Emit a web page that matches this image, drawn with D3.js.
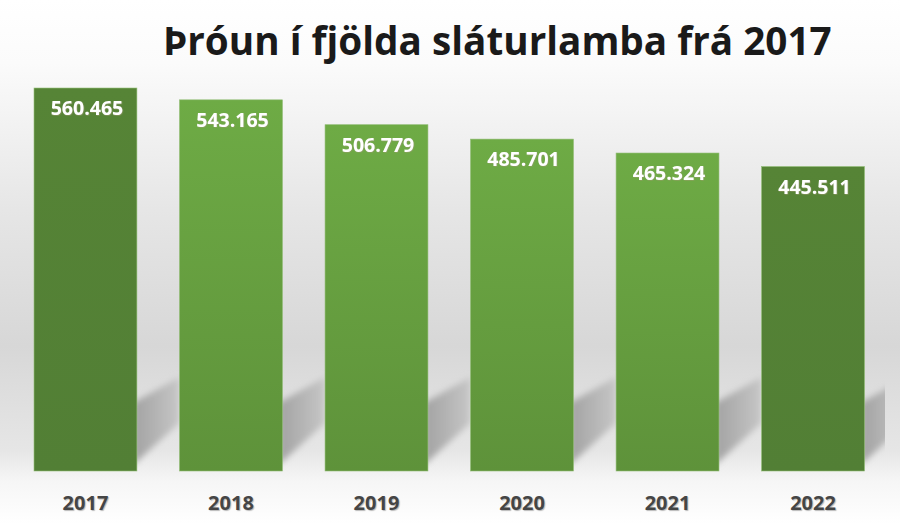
<!DOCTYPE html>
<html>
<head>
<meta charset="utf-8">
<script src="https://cdn.jsdelivr.net/npm/d3@7"></script>
<style>
  body { margin: 0; background: #fff; }
  svg { display: block; }
</style>
</head>
<body>
<div id="chart"></div>
<script>
// data
const years = ["2017", "2018", "2019", "2020", "2021", "2022"];
const lambs = [560465, 543165, 506779, 485701, 465324, 445511];
const darkYears = ["2017", "2022"];
const title = "Þróun í fjölda sláturlamba frá 2017";

const width = 900, height = 524;
const base = 471;

const svg = d3.select("#chart")
  .append("svg")
  .attr("width", width)
  .attr("height", height);

const defs = svg.append("defs");

// background gradient (white -> grey -> white)
const bg = defs.append("linearGradient")
  .attr("id", "bg").attr("x1", 0).attr("y1", 0).attr("x2", 0).attr("y2", 1);
[[0, "#ffffff"], [0.12, "#fbfbfb"], [0.4, "#e6e6e6"], [0.66, "#d7d7d7"],
 [0.86, "#e6e6e6"], [0.92, "#f6f6f6"], [1, "#ffffff"]]
  .forEach(s => bg.append("stop").attr("offset", s[0]).attr("stop-color", s[1]));

const light = defs.append("linearGradient")
  .attr("id", "light").attr("x1", 0).attr("y1", 0).attr("x2", 0).attr("y2", 1);
light.append("stop").attr("offset", 0).attr("stop-color", "#6eab45");
light.append("stop").attr("offset", 1).attr("stop-color", "#5e923a");

const dark = defs.append("linearGradient")
  .attr("id", "dark").attr("x1", 0).attr("y1", 0).attr("x2", 0).attr("y2", 1);
dark.append("stop").attr("offset", 0).attr("stop-color", "#568436");
dark.append("stop").attr("offset", 1).attr("stop-color", "#527f35");

const shade = defs.append("linearGradient")
  .attr("id", "shade").attr("x1", 0).attr("y1", 0).attr("x2", 1).attr("y2", 0);
shade.append("stop").attr("offset", 0).attr("stop-color", "#a2a2a2");
shade.append("stop").attr("offset", 1).attr("stop-color", "#c6c6c6");

defs.append("filter").attr("id", "blur")
  .attr("x", "-20%").attr("y", "-20%").attr("width", "140%").attr("height", "140%")
  .append("feGaussianBlur").attr("stdDeviation", 3);

defs.append("clipPath").attr("id", "clip")
  .append("rect").attr("x", 0).attr("y", 0).attr("width", 885).attr("height", height);

const txtShadow = defs.append("filter").attr("id", "glow")
  .attr("x", "-10%").attr("y", "-20%").attr("width", "120%").attr("height", "140%");
txtShadow.append("feDropShadow").attr("dx", 0.6).attr("dy", 0.6)
  .attr("stdDeviation", 0.4).attr("flood-color", "#9a9a6a").attr("flood-opacity", 0.8);

svg.append("rect")
  .attr("width", width).attr("height", height)
  .attr("fill", "url(#bg)");

// scales
const x = d3.scaleBand()
  .domain(years)
  .range([12.7, 885.8])
  .paddingInner(0.293)
  .paddingOuter(0.1465);

const y = d3.scaleLinear()
  .domain([0, 600000])
  .range([base, 61]);

// shadows behind the bars
const gap = x.step() - x.bandwidth();
svg.append("g")
  .attr("clip-path", "url(#clip)")
  .selectAll("polygon")
  .data(years)
  .join("polygon")
  .attr("points", d => {
    const x1 = x(d) + x.bandwidth();
    return [[x1 - 4, base - 6], [x1 - 4, base - 68], [x1 + gap, base - 94], [x1 + gap, base - 48]]
      .map(p => p.join(",")).join(" ");
  })
  .attr("fill", "url(#shade)")
  .attr("filter", "url(#blur)");

// bars
svg.append("g")
  .selectAll("rect")
  .data(years)
  .join("rect")
  .attr("x", d => x(d))
  .attr("width", x.bandwidth())
  .attr("y", (d, i) => y(lambs[i]))
  .attr("height", (d, i) => base - y(lambs[i]))
  .attr("fill", d => darkYears.includes(d) ? "url(#dark)" : "url(#light)")
  .attr("stroke", "#8fbb72")
  .attr("stroke-width", 0.6);

// value labels
const fmt = v => d3.format(",")(v).replace(/,/g, ".");
svg.append("g")
  .selectAll("text")
  .data(years)
  .join("text")
  .attr("x", d => x(d) + x.bandwidth() / 2 + 1.5)
  .attr("y", (d, i) => y(lambs[i]) + 27)
  .attr("text-anchor", "middle")
  .attr("fill", "#ffffff")
  .attr("filter", "url(#glow)")
  .style("font-family", "'Open Sans', sans-serif")
  .style("font-weight", "bold")
  .style("font-size", "19.5px")
  .text((d, i) => fmt(lambs[i]));

// year labels
svg.append("g")
  .selectAll("text")
  .data(years)
  .join("text")
  .attr("x", d => x(d) + x.bandwidth() / 2)
  .attr("y", 510)
  .attr("text-anchor", "middle")
  .attr("fill", "#454545")
  .style("font-family", "'Open Sans', sans-serif")
  .style("font-weight", "bold")
  .style("font-size", "20px")
  .style("text-shadow", "1px 1px 1px #b8b8b8")
  .text(d => d);

// title, scaled to span the same width as in the picture
const t = svg.append("text")
  .attr("x", 163)
  .attr("y", 55)
  .attr("fill", "#1a1a1a")
  .style("font-family", "'Open Sans', sans-serif")
  .style("font-weight", "bold")
  .style("font-size", "38px")
  .text(title);
const w = t.node().getComputedTextLength();
t.style("font-size", (38 * 669 / w).toFixed(1) + "px");
</script>
</body>
</html>
